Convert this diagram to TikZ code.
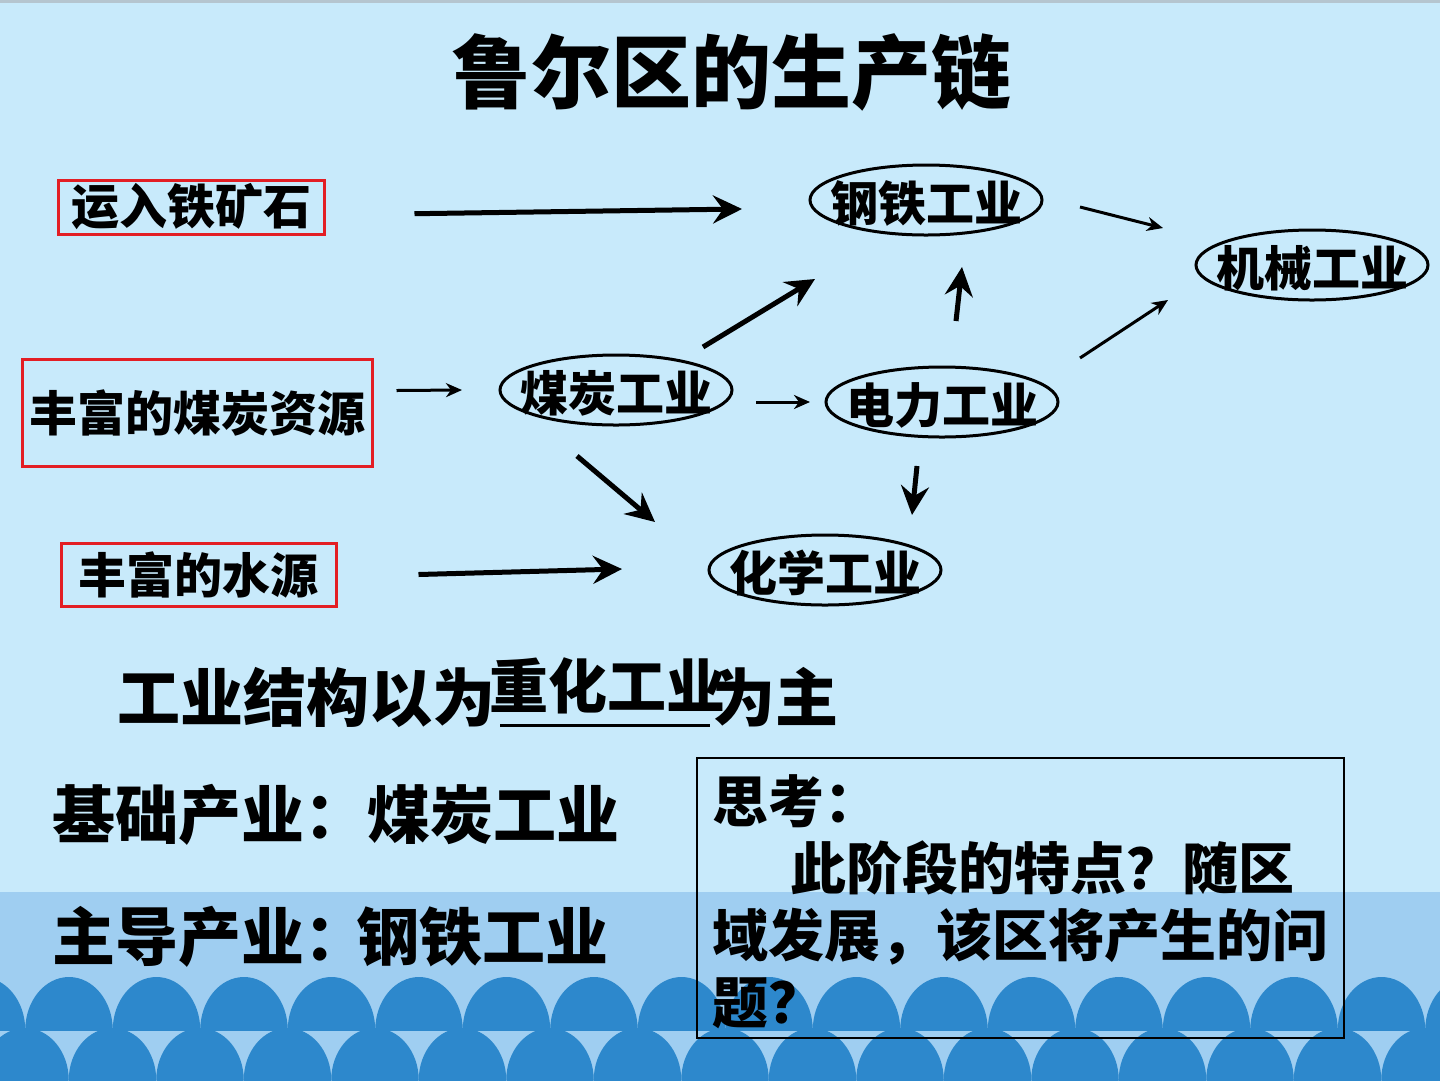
\documentclass[tikz,border=0pt]{standalone}
\usepackage{fontspec}
\setmainfont{Noto Sans CJK SC}[BoldFont=* Black]
\usetikzlibrary{shapes.geometric,arrows.meta}
\definecolor{skyblue}{HTML}{C8EAFB}
\definecolor{bandblue}{HTML}{9FCEF1}
\definecolor{waveblue}{HTML}{2D88CC}
\definecolor{topgray}{HTML}{B5C5CF}
\definecolor{boxred}{HTML}{E31E24}
\newcommand{\cnfont}[2]{\bfseries\fontsize{#1pt}{#2pt}\selectfont}

\begin{document}
\begin{tikzpicture}[x=1pt,y=-1pt,
        src/.style={draw=boxred,line width=3pt,inner sep=0pt,font=\cnfont{48}{58}},
        ind/.style={ellipse,draw,line width=3pt,inner sep=0pt,outer sep=0pt,minimum width=232pt,minimum height=70pt},
        indtext/.style={font=\cnfont{48}{58},inner sep=0pt,yshift=-3pt},
        fat/.style={line width=5pt,-{Stealth[length=29pt,width=28pt,inset=10pt]}},
        slim/.style={line width=3pt,-{Stealth[length=16pt,width=14pt,inset=5pt]}},
        txt/.style={font=\cnfont{63}{76},inner sep=0pt}]
                    \useasboundingbox (0,0) rectangle (1440,1080);
                    \fill[skyblue] (0,0) rectangle (1440,1080);
                    \fill[topgray] (0,0) rectangle (1440,3);
                    \fill[bandblue] (0,892) rectangle (1440,1080);
                    % two rows of domes along the bottom
                    \begin{scope}
                        \clip (0,892) rectangle (1440,1030);
                        \foreach \i in {-1,...,16}
                            \fill[waveblue] (69+87.5*\i,1030) ellipse (43.75 and 53);
                    \end{scope}
                    \begin{scope}
                        \clip (0,892) rectangle (1440,1080);
                        \foreach \i in {0,...,17}
                            \fill[waveblue] (25+87.5*\i,1080) ellipse (43.75 and 52);
                    \end{scope}

                    \node[font=\cnfont{80}{96},inner sep=0pt] (title) at (731,72) {鲁尔区的生产链};

                    \node[src,minimum width=266pt,minimum height=54pt] (ore) at (191,207) {运入铁矿石};
                    \node[src,minimum width=350pt,minimum height=107pt] (coalres) at (197,412.5) {丰富的煤炭资源};
                    \node[src,minimum width=275pt,minimum height=63pt] (water) at (198.5,574.5) {丰富的水源};

                    \node[ind,label={[indtext]center:钢铁工业}] (steel) at (926,200) {};
                    \node[ind,label={[indtext]center:机械工业}] (mach) at (1312,265) {};
                    \node[ind,label={[indtext]center:煤炭工业}] (coal) at (616,390) {};
                    \node[ind,label={[indtext]center:电力工业}] (power) at (942,402) {};
                    \node[ind,label={[indtext]center:化学工业}] (chem) at (825,570) {};

                    \draw[fat,shorten <=89pt,shorten >=68pt] ([yshift=-8pt]ore.east) -- ([yshift=-8pt]steel.west);
                    \draw[slim] ([xshift=38pt,yshift=-7pt]steel.east) -- ([xshift=-33pt,yshift=37pt]mach.west);
                    \draw[slim] ([xshift=22pt,yshift=44pt]power.east) -- ([xshift=-28pt,yshift=-35pt]mach.west);
                    \draw[fat] ([xshift=87pt,yshift=43pt]coal.center) -- ([xshift=-111pt,yshift=-79pt]steel.center);
                    \draw[fat] ([xshift=14pt,yshift=46pt]power.north) -- ([xshift=36pt,yshift=-32pt]steel.south);
                    \draw[slim] ([xshift=23pt,yshift=22pt]coalres.east) -- ([xshift=-38pt]coal.west);
                    \draw[slim] ([xshift=24pt,yshift=-12pt]coal.east) -- ([xshift=-16pt]power.west);
                    \draw[fat] ([xshift=-39pt,yshift=-31pt]coal.south) -- ([xshift=-54pt,yshift=48pt]chem.west);
                    \draw[fat] ([xshift=-25pt,yshift=-29pt]power.south) -- ([xshift=87pt,yshift=20pt]chem.north);
                    \draw[fat] ([xshift=81pt]water.east) -- ([xshift=-87pt,yshift=1pt]chem.west);

                    \node[txt,anchor=west] (struct) at (117,697) {工业结构以为};
                    \node[txt,anchor=west] (mainly) at (712,697) {为主};
                    \node[txt,font=\cnfont{59}{70}] (heavy) at (607,686) {重化工业};
                    \draw[line width=3pt] (500,725) -- (710,725);

                    \node[txt,anchor=west] (basic) at (52,815) {基础产业：煤炭工业};
                    \node[txt,anchor=west] (leading) at (52,937) {主导产业：\hspace{-11pt}钢铁工业};

                    \node[draw,line width=1.5pt,inner sep=0pt,minimum width=647pt,minimum height=280pt,anchor=north west] (qbox) at (696,757) {};
                    \node[font=\cnfont{56}{67},inner sep=0pt,align=left,anchor=north west] (think) at ([xshift=16pt,yshift=-17pt]qbox.north west)
                        {思考：\\\hspace*{78pt}此阶段的特点？随区\\域发展，该区将产生的问\\题？};
                \end{tikzpicture}
\end{document}
